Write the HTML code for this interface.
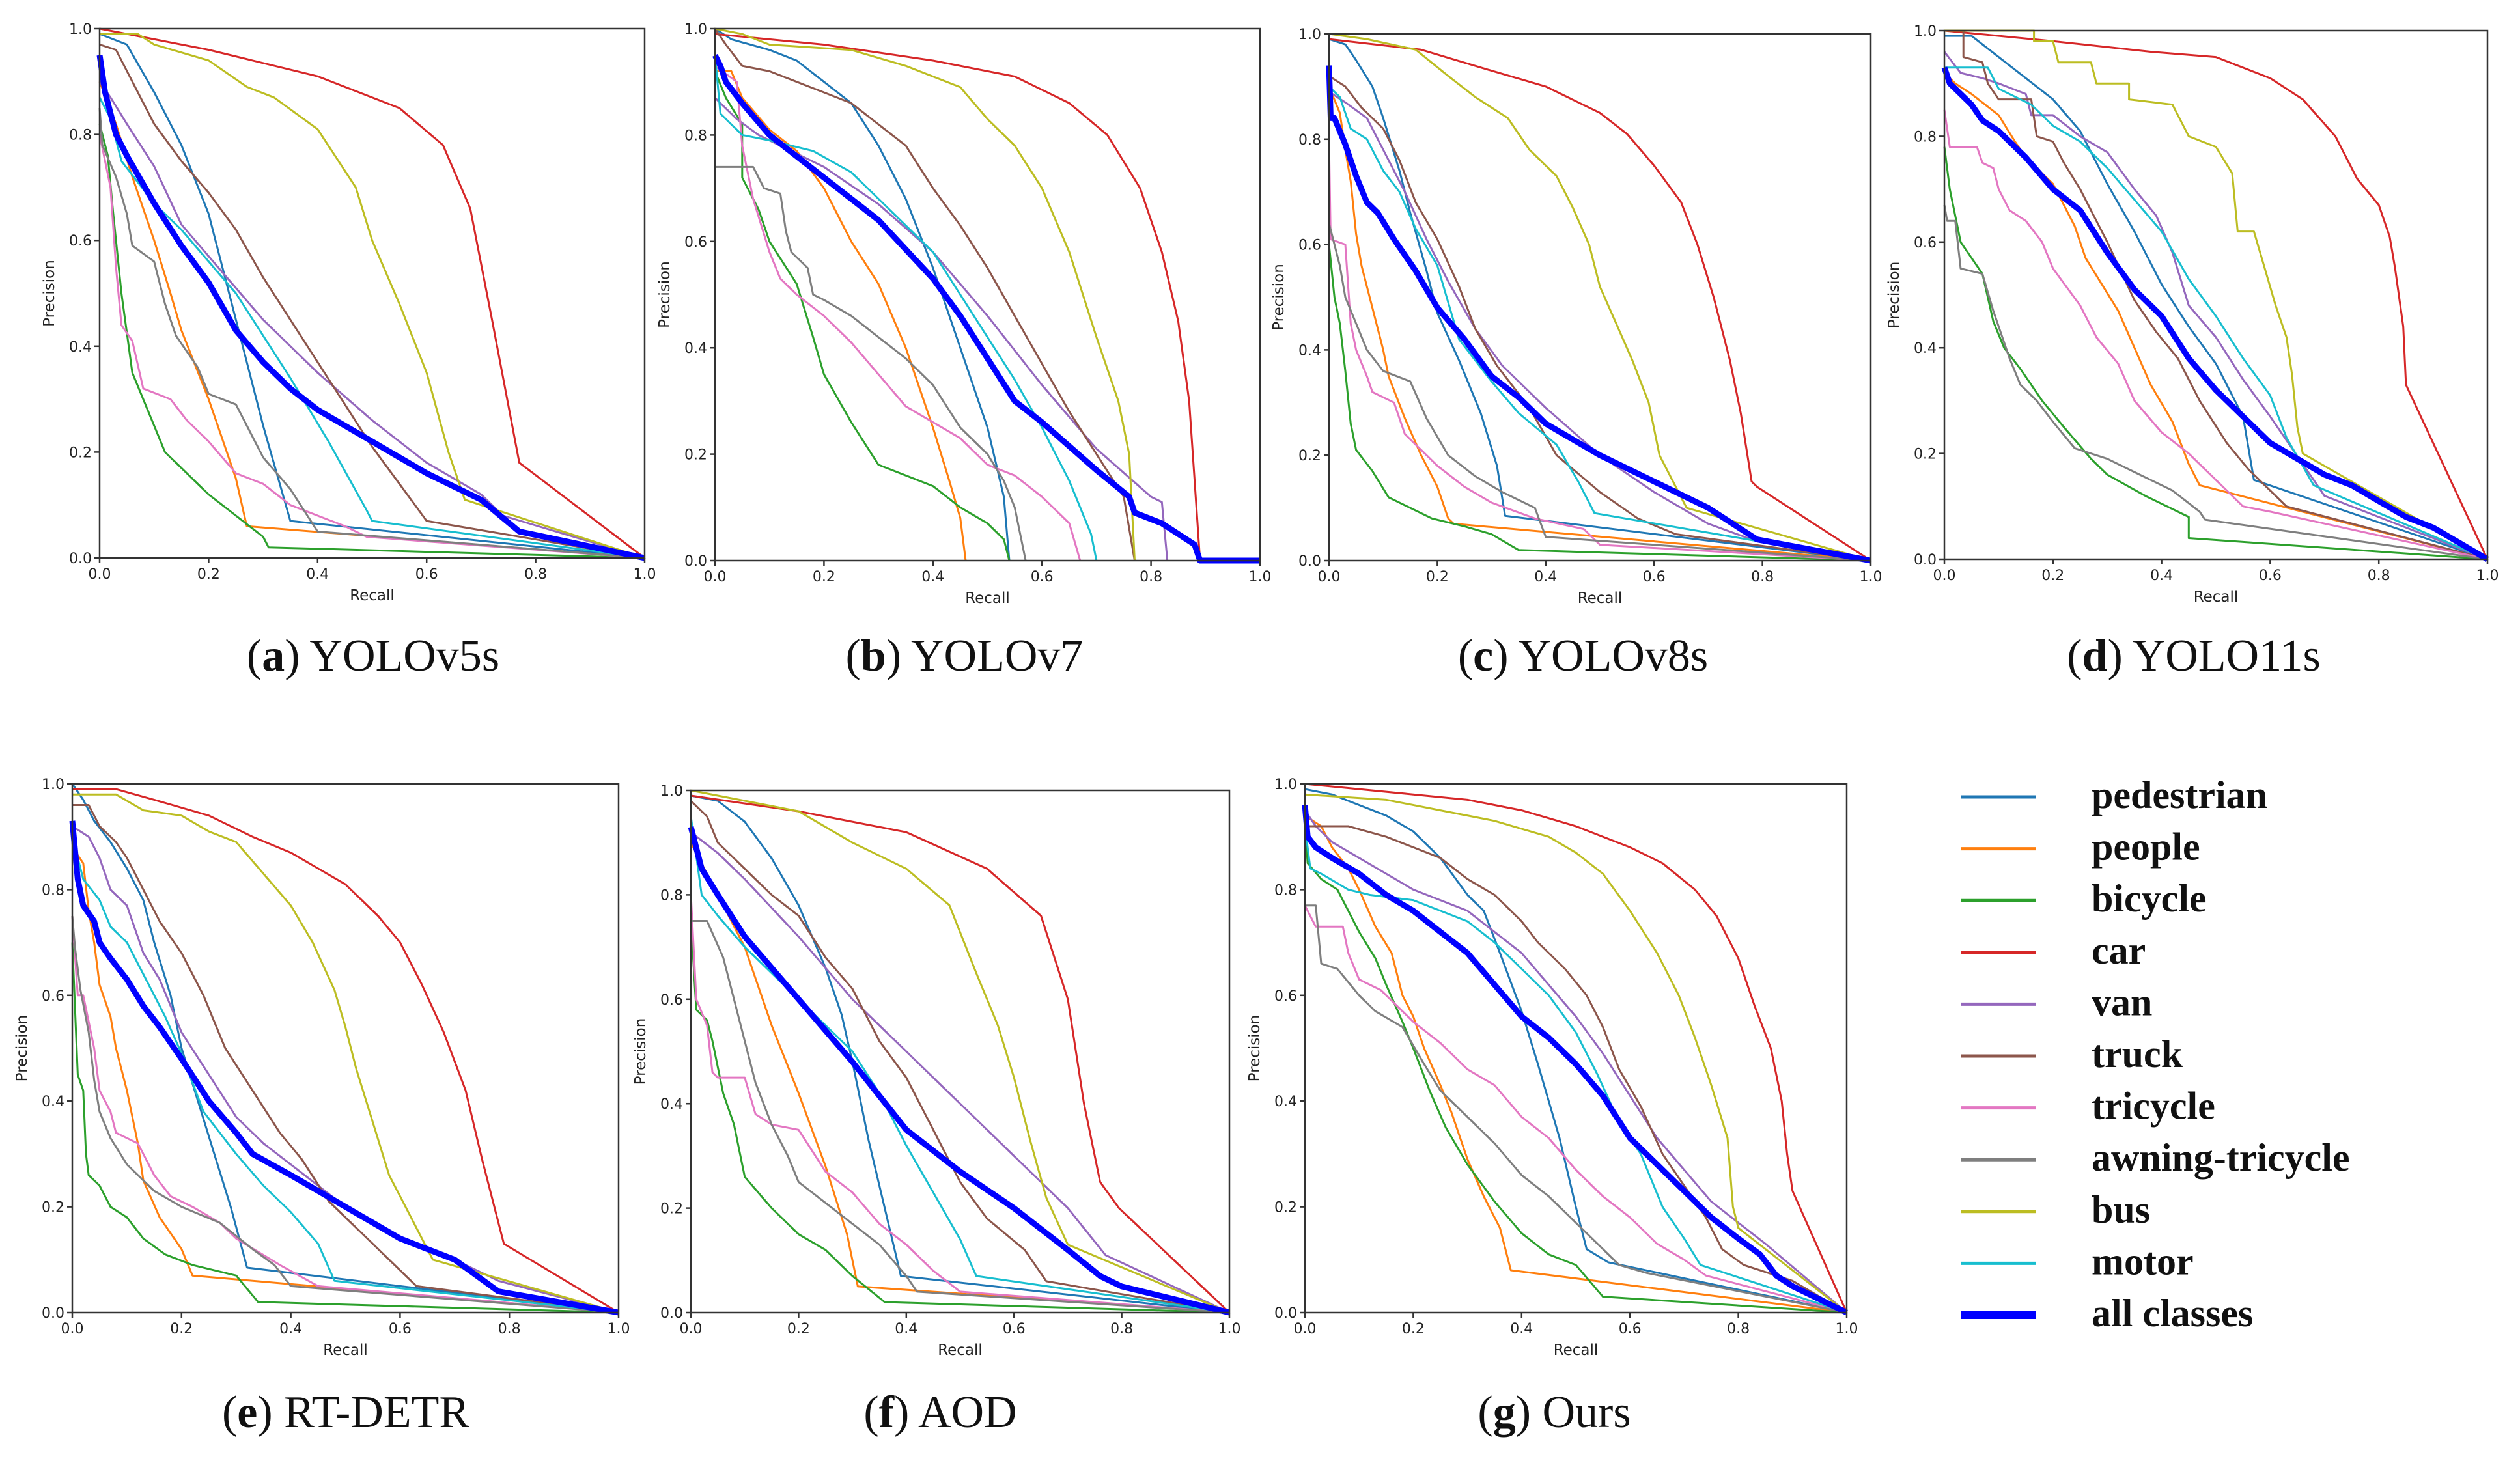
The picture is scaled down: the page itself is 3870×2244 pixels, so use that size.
<!DOCTYPE html>
<html><head><meta charset="utf-8">
<style>
html,body{margin:0;padding:0;background:#fff;}
svg{display:block;}
.tick{font-family:"DejaVu Sans",sans-serif;font-size:22px;fill:#222;}
.axl{font-family:"DejaVu Sans",sans-serif;font-size:23px;fill:#222;}
.cap{font-family:"Liberation Serif",serif;font-size:70px;fill:#111;}
.leg{font-family:"Liberation Serif",serif;font-size:60px;font-weight:bold;fill:#111;}
</style></head>
<body>
<svg id="fig" width="3870" height="2244" viewBox="0 0 3870 2244" xmlns="http://www.w3.org/2000/svg"></svg>
<script>
const classNames = ["pedestrian","people","bicycle","car","van","truck","tricycle","awning-tricycle","bus","motor","all classes"];
const classColors = ["#1f77b4","#ff7f0e","#2ca02c","#d62728","#9467bd","#8c564b","#e377c2","#7f7f7f","#bcbd22","#17becf","#0000ff"];
const tickValues = [0,0.2,0.4,0.6,0.8,1.0];
const tickLabels = ["0.0","0.2","0.4","0.6","0.8","1.0"];
const panelTitles = ["YOLOv5s","YOLOv7","YOLOv8s","YOLO11s","RT-DETR","AOD","Ours"];
const panelLetters = ["a","b","c","d","e","f","g"];

const curvesA = [
[[0,0.99],[0.05,0.97],[0.1,0.88],[0.15,0.78],[0.2,0.65],[0.25,0.45],[0.3,0.25],[0.35,0.07],[1,0]],
[[0,0.9],[0.03,0.82],[0.06,0.72],[0.1,0.6],[0.13,0.5],[0.15,0.43],[0.2,0.3],[0.25,0.15],[0.27,0.06],[1,0]],
[[0,0.82],[0.015,0.76],[0.025,0.65],[0.04,0.5],[0.06,0.35],[0.1,0.25],[0.12,0.2],[0.15,0.17],[0.2,0.12],[0.25,0.08],[0.3,0.04],[0.31,0.02],[1,0]],
[[0,1],[0.2,0.96],[0.4,0.91],[0.55,0.85],[0.63,0.78],[0.68,0.66],[0.72,0.45],[0.77,0.18],[1,0]],
[[0,0.9],[0.02,0.87],[0.05,0.82],[0.1,0.74],[0.15,0.63],[0.2,0.57],[0.3,0.45],[0.4,0.35],[0.5,0.26],[0.6,0.18],[0.7,0.12],[0.74,0.08],[1,0]],
[[0,0.97],[0.03,0.96],[0.06,0.9],[0.1,0.82],[0.15,0.75],[0.2,0.69],[0.25,0.62],[0.3,0.53],[0.35,0.45],[0.4,0.37],[0.45,0.29],[0.5,0.21],[0.55,0.14],[0.6,0.07],[1,0]],
[[0,0.8],[0.02,0.7],[0.03,0.55],[0.04,0.44],[0.06,0.41],[0.08,0.32],[0.13,0.3],[0.16,0.26],[0.2,0.22],[0.25,0.16],[0.3,0.14],[0.35,0.1],[0.45,0.06],[0.49,0.04],[1,0]],
[[0,0.85],[0.005,0.78],[0.03,0.72],[0.05,0.65],[0.06,0.59],[0.1,0.56],[0.12,0.48],[0.14,0.42],[0.18,0.36],[0.2,0.31],[0.25,0.29],[0.3,0.19],[0.35,0.13],[0.4,0.05],[1,0]],
[[0,0.99],[0.07,0.99],[0.1,0.97],[0.2,0.94],[0.27,0.89],[0.32,0.87],[0.4,0.81],[0.47,0.7],[0.5,0.6],[0.55,0.48],[0.6,0.35],[0.64,0.2],[0.67,0.11],[1,0]],
[[0,0.87],[0.02,0.83],[0.04,0.75],[0.1,0.67],[0.15,0.62],[0.25,0.5],[0.35,0.34],[0.42,0.22],[0.49,0.09],[0.5,0.07],[1,0]],
[[0,0.95],[0.01,0.88],[0.03,0.8],[0.05,0.76],[0.1,0.67],[0.15,0.59],[0.2,0.52],[0.25,0.43],[0.3,0.37],[0.35,0.32],[0.4,0.28],[0.5,0.22],[0.6,0.16],[0.7,0.11],[0.77,0.05],[1,0]]
];
const curvesB = [
[[0,1],[0.03,0.98],[0.1,0.96],[0.15,0.94],[0.2,0.9],[0.25,0.86],[0.3,0.78],[0.35,0.68],[0.4,0.55],[0.45,0.4],[0.5,0.25],[0.53,0.12],[0.54,0]],
[[0,0.92],[0.03,0.92],[0.05,0.87],[0.1,0.81],[0.15,0.77],[0.2,0.7],[0.25,0.6],[0.3,0.52],[0.35,0.4],[0.4,0.25],[0.43,0.15],[0.45,0.08],[0.46,0]],
[[0,0.92],[0.02,0.87],[0.05,0.82],[0.05,0.72],[0.08,0.66],[0.1,0.6],[0.15,0.52],[0.18,0.42],[0.2,0.35],[0.25,0.26],[0.3,0.18],[0.4,0.14],[0.45,0.1],[0.5,0.07],[0.53,0.04],[0.54,0]],
[[0,0.99],[0.2,0.97],[0.4,0.94],[0.55,0.91],[0.65,0.86],[0.72,0.8],[0.78,0.7],[0.82,0.58],[0.85,0.45],[0.87,0.3],[0.88,0.15],[0.89,0]],
[[0,0.87],[0.02,0.85],[0.04,0.83],[0.08,0.8],[0.1,0.79],[0.2,0.74],[0.3,0.67],[0.4,0.58],[0.5,0.46],[0.6,0.33],[0.7,0.21],[0.8,0.12],[0.82,0.11],[0.83,0]],
[[0,1],[0.02,0.97],[0.05,0.93],[0.1,0.92],[0.15,0.9],[0.2,0.88],[0.25,0.86],[0.3,0.82],[0.35,0.78],[0.4,0.7],[0.45,0.63],[0.5,0.55],[0.55,0.46],[0.6,0.37],[0.65,0.28],[0.7,0.2],[0.75,0.12],[0.77,0]],
[[0,0.93],[0.04,0.9],[0.05,0.78],[0.07,0.68],[0.1,0.58],[0.12,0.53],[0.15,0.5],[0.2,0.46],[0.25,0.41],[0.3,0.35],[0.35,0.29],[0.4,0.26],[0.45,0.23],[0.5,0.18],[0.55,0.16],[0.6,0.12],[0.65,0.07],[0.67,0]],
[[0,0.74],[0.07,0.74],[0.09,0.7],[0.12,0.69],[0.13,0.62],[0.14,0.58],[0.17,0.55],[0.18,0.5],[0.2,0.49],[0.25,0.46],[0.3,0.42],[0.35,0.38],[0.4,0.33],[0.45,0.25],[0.5,0.2],[0.53,0.15],[0.55,0.1],[0.57,0]],
[[0,1],[0.05,0.99],[0.1,0.97],[0.25,0.96],[0.35,0.93],[0.45,0.89],[0.5,0.83],[0.55,0.78],[0.6,0.7],[0.65,0.58],[0.7,0.42],[0.74,0.3],[0.76,0.2],[0.77,0]],
[[0,0.95],[0.01,0.84],[0.03,0.82],[0.05,0.8],[0.1,0.79],[0.18,0.77],[0.25,0.73],[0.3,0.68],[0.35,0.63],[0.4,0.58],[0.45,0.5],[0.5,0.42],[0.55,0.34],[0.6,0.25],[0.65,0.15],[0.69,0.05],[0.7,0]],
[[0,0.95],[0.01,0.93],[0.02,0.9],[0.05,0.86],[0.1,0.8],[0.15,0.76],[0.2,0.72],[0.3,0.64],[0.4,0.53],[0.45,0.46],[0.5,0.38],[0.55,0.3],[0.6,0.26],[0.7,0.17],[0.76,0.12],[0.77,0.09],[0.82,0.07],[0.85,0.05],[0.88,0.03],[0.89,0],[1,0]]
];
const curvesC = [
[[0,0.99],[0.03,0.98],[0.05,0.95],[0.08,0.9],[0.1,0.84],[0.13,0.74],[0.15,0.66],[0.18,0.55],[0.2,0.47],[0.24,0.38],[0.28,0.28],[0.31,0.18],[0.325,0.085],[1,0]],
[[0,0.9],[0.02,0.85],[0.03,0.78],[0.04,0.72],[0.05,0.62],[0.06,0.56],[0.08,0.48],[0.1,0.4],[0.11,0.35],[0.14,0.27],[0.17,0.2],[0.2,0.14],[0.22,0.08],[0.23,0.07],[1,0]],
[[0,0.6],[0.01,0.5],[0.02,0.45],[0.03,0.36],[0.04,0.26],[0.05,0.21],[0.08,0.17],[0.11,0.12],[0.15,0.1],[0.19,0.08],[0.25,0.065],[0.3,0.05],[0.35,0.02],[1,0]],
[[0,0.99],[0.17,0.97],[0.3,0.93],[0.4,0.9],[0.5,0.85],[0.55,0.81],[0.6,0.75],[0.65,0.68],[0.68,0.6],[0.71,0.5],[0.74,0.38],[0.76,0.28],[0.78,0.15],[0.79,0.14],[1,0]],
[[0,0.89],[0.03,0.87],[0.07,0.84],[0.1,0.78],[0.14,0.7],[0.18,0.61],[0.22,0.53],[0.27,0.44],[0.32,0.37],[0.4,0.29],[0.5,0.2],[0.6,0.13],[0.7,0.07],[0.78,0.04],[1,0]],
[[0,0.92],[0.03,0.9],[0.06,0.86],[0.1,0.82],[0.13,0.76],[0.16,0.68],[0.2,0.61],[0.24,0.52],[0.27,0.44],[0.31,0.37],[0.37,0.29],[0.42,0.2],[0.5,0.13],[0.57,0.08],[0.64,0.05],[1,0]],
[[0,0.8],[0.003,0.61],[0.03,0.6],[0.04,0.45],[0.05,0.4],[0.07,0.35],[0.08,0.32],[0.12,0.3],[0.14,0.24],[0.18,0.2],[0.2,0.18],[0.25,0.14],[0.3,0.11],[0.38,0.08],[0.47,0.06],[0.5,0.03],[1,0]],
[[0,0.64],[0.005,0.62],[0.02,0.56],[0.03,0.5],[0.05,0.45],[0.07,0.4],[0.1,0.36],[0.15,0.34],[0.18,0.27],[0.22,0.2],[0.27,0.16],[0.32,0.13],[0.38,0.1],[0.4,0.045],[1,0]],
[[0,1],[0.07,0.99],[0.16,0.97],[0.22,0.92],[0.27,0.88],[0.33,0.84],[0.37,0.78],[0.42,0.73],[0.45,0.67],[0.48,0.6],[0.5,0.52],[0.53,0.45],[0.56,0.38],[0.59,0.3],[0.61,0.2],[0.66,0.1],[1,0]],
[[0,0.9],[0.02,0.88],[0.04,0.82],[0.07,0.8],[0.1,0.74],[0.13,0.7],[0.16,0.63],[0.2,0.56],[0.24,0.42],[0.3,0.34],[0.35,0.28],[0.42,0.22],[0.46,0.15],[0.49,0.09],[1,0]],
[[0,0.94],[0.003,0.84],[0.01,0.84],[0.03,0.79],[0.05,0.73],[0.07,0.68],[0.09,0.66],[0.12,0.61],[0.16,0.55],[0.2,0.48],[0.25,0.42],[0.3,0.35],[0.35,0.31],[0.4,0.26],[0.5,0.2],[0.6,0.15],[0.7,0.1],[0.79,0.04],[1,0]]
];
const curvesD = [
[[0,0.99],[0.05,0.99],[0.1,0.95],[0.2,0.87],[0.25,0.81],[0.3,0.71],[0.35,0.62],[0.4,0.52],[0.45,0.44],[0.5,0.37],[0.55,0.27],[0.57,0.15],[1,0]],
[[0,0.92],[0.02,0.9],[0.05,0.88],[0.1,0.84],[0.13,0.79],[0.15,0.76],[0.2,0.71],[0.24,0.63],[0.26,0.57],[0.29,0.52],[0.32,0.47],[0.35,0.4],[0.38,0.33],[0.42,0.26],[0.45,0.18],[0.47,0.14],[1,0]],
[[0,0.78],[0.01,0.7],[0.03,0.6],[0.05,0.57],[0.07,0.54],[0.09,0.45],[0.11,0.4],[0.14,0.36],[0.18,0.3],[0.22,0.25],[0.27,0.19],[0.3,0.16],[0.37,0.12],[0.45,0.08],[0.45,0.04],[1,0]],
[[0,1],[0.2,0.98],[0.38,0.96],[0.5,0.95],[0.6,0.91],[0.66,0.87],[0.72,0.8],[0.76,0.72],[0.8,0.67],[0.82,0.61],[0.83,0.55],[0.845,0.44],[0.85,0.33],[1,0]],
[[0,0.96],[0.03,0.92],[0.07,0.91],[0.1,0.9],[0.15,0.88],[0.16,0.84],[0.2,0.84],[0.25,0.8],[0.3,0.77],[0.35,0.7],[0.39,0.65],[0.42,0.58],[0.45,0.48],[0.5,0.42],[0.55,0.34],[0.6,0.27],[0.7,0.12],[1,0]],
[[0,1],[0.035,1],[0.035,0.95],[0.07,0.94],[0.08,0.9],[0.1,0.87],[0.16,0.87],[0.17,0.8],[0.2,0.79],[0.22,0.75],[0.25,0.7],[0.28,0.64],[0.3,0.6],[0.35,0.49],[0.39,0.43],[0.43,0.38],[0.47,0.3],[0.52,0.22],[0.56,0.17],[0.63,0.1],[1,0]],
[[0,0.85],[0.01,0.78],[0.06,0.78],[0.07,0.75],[0.09,0.74],[0.1,0.7],[0.12,0.66],[0.15,0.64],[0.18,0.6],[0.2,0.55],[0.25,0.48],[0.28,0.42],[0.32,0.37],[0.35,0.3],[0.4,0.24],[0.45,0.2],[0.5,0.15],[0.55,0.1],[0.6,0.09],[1,0]],
[[0,0.67],[0.005,0.64],[0.02,0.64],[0.03,0.55],[0.07,0.54],[0.09,0.47],[0.12,0.38],[0.14,0.33],[0.17,0.3],[0.2,0.26],[0.24,0.21],[0.3,0.19],[0.36,0.16],[0.42,0.13],[0.47,0.09],[0.48,0.075],[1,0]],
[[0,1],[0.165,1],[0.165,0.98],[0.2,0.98],[0.21,0.94],[0.27,0.94],[0.28,0.9],[0.34,0.9],[0.34,0.87],[0.42,0.86],[0.45,0.8],[0.5,0.78],[0.53,0.73],[0.54,0.62],[0.57,0.62],[0.59,0.55],[0.61,0.48],[0.63,0.42],[0.64,0.35],[0.65,0.25],[0.66,0.2],[1,0]],
[[0,0.93],[0.08,0.93],[0.1,0.89],[0.16,0.86],[0.2,0.82],[0.25,0.79],[0.3,0.74],[0.35,0.68],[0.4,0.62],[0.45,0.53],[0.5,0.46],[0.55,0.38],[0.6,0.31],[0.63,0.23],[0.68,0.14],[1,0]],
[[0,0.93],[0.01,0.9],[0.03,0.88],[0.05,0.86],[0.07,0.83],[0.1,0.81],[0.15,0.76],[0.2,0.7],[0.25,0.66],[0.3,0.58],[0.35,0.51],[0.4,0.46],[0.45,0.38],[0.5,0.32],[0.55,0.27],[0.6,0.22],[0.65,0.19],[0.7,0.16],[0.75,0.14],[0.8,0.11],[0.85,0.08],[0.9,0.06],[1,0]]
];
const curvesE = [
[[0,1],[0.02,0.97],[0.04,0.93],[0.07,0.89],[0.1,0.84],[0.13,0.78],[0.15,0.7],[0.18,0.6],[0.2,0.5],[0.23,0.4],[0.26,0.3],[0.29,0.2],[0.32,0.085],[1,0]],
[[0,0.88],[0.02,0.85],[0.03,0.76],[0.04,0.7],[0.05,0.62],[0.07,0.56],[0.08,0.5],[0.1,0.42],[0.12,0.32],[0.13,0.25],[0.16,0.18],[0.2,0.12],[0.22,0.07],[1,0]],
[[0,0.7],[0.01,0.45],[0.02,0.42],[0.025,0.3],[0.03,0.26],[0.05,0.24],[0.07,0.2],[0.1,0.18],[0.13,0.14],[0.17,0.11],[0.22,0.09],[0.3,0.07],[0.34,0.02],[1,0]],
[[0,0.99],[0.08,0.99],[0.15,0.97],[0.25,0.94],[0.33,0.9],[0.4,0.87],[0.5,0.81],[0.56,0.75],[0.6,0.7],[0.64,0.62],[0.68,0.53],[0.72,0.42],[0.75,0.29],[0.79,0.13],[1,0]],
[[0,0.92],[0.03,0.9],[0.05,0.86],[0.07,0.8],[0.1,0.77],[0.13,0.68],[0.16,0.63],[0.2,0.53],[0.25,0.45],[0.3,0.37],[0.35,0.32],[0.4,0.28],[0.45,0.24],[0.5,0.2],[0.6,0.14],[0.7,0.1],[0.78,0.06],[1,0]],
[[0,0.96],[0.03,0.96],[0.05,0.92],[0.08,0.89],[0.1,0.86],[0.13,0.8],[0.16,0.74],[0.2,0.68],[0.24,0.6],[0.28,0.5],[0.33,0.42],[0.38,0.34],[0.42,0.29],[0.47,0.21],[0.53,0.15],[0.58,0.1],[0.63,0.05],[1,0]],
[[0,0.75],[0.01,0.6],[0.02,0.6],[0.04,0.5],[0.05,0.42],[0.07,0.38],[0.08,0.34],[0.12,0.32],[0.15,0.26],[0.18,0.22],[0.22,0.2],[0.27,0.17],[0.3,0.14],[0.38,0.09],[0.45,0.05],[1,0]],
[[0,0.75],[0.005,0.69],[0.015,0.61],[0.03,0.53],[0.04,0.44],[0.05,0.38],[0.07,0.33],[0.1,0.28],[0.13,0.25],[0.15,0.23],[0.2,0.2],[0.27,0.17],[0.33,0.12],[0.37,0.09],[0.4,0.05],[1,0]],
[[0,0.98],[0.08,0.98],[0.13,0.95],[0.2,0.94],[0.25,0.91],[0.3,0.89],[0.35,0.83],[0.4,0.77],[0.44,0.7],[0.48,0.61],[0.5,0.54],[0.52,0.46],[0.55,0.36],[0.58,0.26],[0.62,0.18],[0.66,0.1],[1,0]],
[[0,0.9],[0.02,0.82],[0.05,0.78],[0.07,0.73],[0.1,0.7],[0.13,0.64],[0.17,0.56],[0.2,0.49],[0.24,0.38],[0.3,0.3],[0.35,0.24],[0.4,0.19],[0.45,0.13],[0.48,0.06],[1,0]],
[[0,0.93],[0.01,0.82],[0.02,0.77],[0.04,0.74],[0.05,0.7],[0.07,0.67],[0.1,0.63],[0.13,0.58],[0.16,0.54],[0.2,0.48],[0.25,0.4],[0.3,0.34],[0.33,0.3],[0.4,0.26],[0.45,0.23],[0.5,0.2],[0.6,0.14],[0.7,0.1],[0.78,0.04],[1,0]]
];
const curvesF = [
[[0,0.99],[0.05,0.98],[0.1,0.94],[0.15,0.87],[0.2,0.78],[0.25,0.66],[0.28,0.57],[0.3,0.48],[0.33,0.33],[0.36,0.2],[0.39,0.07],[1,0]],
[[0,0.9],[0.05,0.8],[0.1,0.7],[0.15,0.55],[0.2,0.42],[0.25,0.28],[0.29,0.15],[0.31,0.05],[1,0]],
[[0,0.75],[0.01,0.58],[0.03,0.56],[0.04,0.52],[0.06,0.42],[0.08,0.36],[0.1,0.26],[0.15,0.2],[0.2,0.15],[0.25,0.12],[0.3,0.07],[0.36,0.02],[1,0]],
[[0,0.99],[0.2,0.96],[0.4,0.92],[0.55,0.85],[0.65,0.76],[0.7,0.6],[0.73,0.4],[0.76,0.25],[0.795,0.2],[1,0]],
[[0,0.92],[0.05,0.88],[0.1,0.83],[0.2,0.72],[0.3,0.6],[0.4,0.5],[0.5,0.4],[0.6,0.3],[0.7,0.2],[0.77,0.11],[1,0]],
[[0,0.98],[0.03,0.95],[0.05,0.9],[0.1,0.85],[0.15,0.8],[0.2,0.76],[0.25,0.68],[0.3,0.62],[0.35,0.52],[0.4,0.45],[0.45,0.35],[0.5,0.25],[0.55,0.18],[0.62,0.12],[0.66,0.06],[1,0]],
[[0,0.8],[0.01,0.6],[0.03,0.55],[0.04,0.46],[0.05,0.45],[0.1,0.45],[0.12,0.38],[0.15,0.36],[0.2,0.35],[0.25,0.27],[0.3,0.23],[0.35,0.17],[0.4,0.13],[0.45,0.08],[0.5,0.04],[1,0]],
[[0,0.75],[0.03,0.75],[0.06,0.68],[0.08,0.6],[0.1,0.52],[0.12,0.44],[0.15,0.36],[0.18,0.3],[0.2,0.25],[0.25,0.21],[0.3,0.17],[0.35,0.13],[0.4,0.07],[0.42,0.04],[1,0]],
[[0,1],[0.1,0.98],[0.2,0.96],[0.3,0.9],[0.4,0.85],[0.48,0.78],[0.53,0.65],[0.57,0.55],[0.6,0.45],[0.63,0.33],[0.66,0.22],[0.7,0.13],[1,0]],
[[0,0.95],[0.02,0.8],[0.05,0.76],[0.1,0.7],[0.2,0.6],[0.3,0.5],[0.35,0.42],[0.4,0.32],[0.45,0.23],[0.5,0.14],[0.53,0.07],[1,0]],
[[0,0.93],[0.02,0.85],[0.05,0.8],[0.1,0.72],[0.2,0.6],[0.3,0.48],[0.4,0.35],[0.5,0.27],[0.6,0.2],[0.7,0.12],[0.76,0.07],[0.8,0.05],[1,0]]
];
const curvesG = [
[[0,0.99],[0.05,0.98],[0.1,0.96],[0.15,0.94],[0.2,0.91],[0.25,0.86],[0.3,0.79],[0.33,0.76],[0.36,0.68],[0.4,0.57],[0.43,0.47],[0.47,0.33],[0.5,0.2],[0.52,0.12],[0.56,0.095],[1,0]],
[[0,0.94],[0.03,0.92],[0.05,0.88],[0.08,0.84],[0.1,0.8],[0.13,0.73],[0.16,0.68],[0.18,0.6],[0.2,0.56],[0.22,0.5],[0.25,0.43],[0.27,0.38],[0.3,0.29],[0.33,0.22],[0.36,0.16],[0.38,0.08],[1,0]],
[[0,0.92],[0.005,0.85],[0.03,0.82],[0.06,0.8],[0.08,0.76],[0.1,0.72],[0.13,0.67],[0.15,0.62],[0.18,0.55],[0.2,0.5],[0.23,0.42],[0.26,0.35],[0.3,0.28],[0.35,0.21],[0.4,0.15],[0.45,0.11],[0.5,0.09],[0.55,0.03],[1,0]],
[[0,1],[0.2,0.98],[0.3,0.97],[0.4,0.95],[0.5,0.92],[0.6,0.88],[0.66,0.85],[0.72,0.8],[0.76,0.75],[0.8,0.67],[0.83,0.58],[0.86,0.5],[0.88,0.4],[0.89,0.3],[0.9,0.23],[1,0]],
[[0,0.95],[0.02,0.92],[0.05,0.89],[0.1,0.86],[0.15,0.83],[0.2,0.8],[0.25,0.78],[0.3,0.76],[0.35,0.72],[0.4,0.68],[0.45,0.62],[0.5,0.56],[0.55,0.49],[0.6,0.41],[0.65,0.33],[0.7,0.27],[0.75,0.21],[0.8,0.17],[0.85,0.13],[1,0]],
[[0,0.92],[0.08,0.92],[0.15,0.9],[0.2,0.88],[0.25,0.86],[0.3,0.82],[0.35,0.79],[0.4,0.74],[0.43,0.7],[0.48,0.65],[0.52,0.6],[0.55,0.54],[0.58,0.46],[0.62,0.39],[0.66,0.3],[0.7,0.24],[0.74,0.18],[0.77,0.12],[0.81,0.09],[0.9,0.06],[1,0]],
[[0,0.77],[0.02,0.73],[0.07,0.73],[0.08,0.68],[0.1,0.63],[0.14,0.61],[0.2,0.55],[0.25,0.51],[0.3,0.46],[0.35,0.43],[0.4,0.37],[0.45,0.33],[0.5,0.27],[0.55,0.22],[0.6,0.18],[0.65,0.13],[0.7,0.1],[0.74,0.07],[1,0]],
[[0,0.77],[0.02,0.77],[0.03,0.66],[0.06,0.65],[0.1,0.6],[0.13,0.57],[0.18,0.54],[0.22,0.47],[0.25,0.42],[0.3,0.37],[0.35,0.32],[0.4,0.26],[0.45,0.22],[0.5,0.17],[0.54,0.13],[0.58,0.09],[0.63,0.075],[1,0]],
[[0,0.98],[0.15,0.97],[0.25,0.95],[0.35,0.93],[0.45,0.9],[0.5,0.87],[0.55,0.83],[0.6,0.76],[0.65,0.68],[0.69,0.6],[0.72,0.52],[0.75,0.43],[0.78,0.33],[0.79,0.2],[0.8,0.16],[1,0]],
[[0,0.92],[0.01,0.84],[0.03,0.83],[0.08,0.8],[0.12,0.79],[0.2,0.78],[0.25,0.76],[0.3,0.74],[0.35,0.7],[0.4,0.65],[0.45,0.6],[0.5,0.53],[0.54,0.45],[0.58,0.36],[0.62,0.3],[0.66,0.2],[0.7,0.14],[0.73,0.09],[1,0]],
[[0,0.96],[0.005,0.9],[0.02,0.88],[0.05,0.86],[0.1,0.83],[0.15,0.79],[0.2,0.76],[0.25,0.72],[0.3,0.68],[0.35,0.62],[0.4,0.56],[0.45,0.52],[0.5,0.47],[0.55,0.41],[0.6,0.33],[0.65,0.28],[0.7,0.23],[0.75,0.18],[0.8,0.14],[0.84,0.11],[0.87,0.07],[0.9,0.05],[1,0]]
];
const allCurves = [curvesA,curvesB,curvesC,curvesD,curvesE,curvesF,curvesG];

const panelBoxes = [
 {x0:153,x1:990,y0:44,y1:857,cx:573,cy:1030},
 {x0:1098,x1:1935,y0:44,y1:861,cx:1481,cy:1030},
 {x0:2041,x1:2873,y0:52,y1:861,cx:2431,cy:1030},
 {x0:2986,x1:3820,y0:47,y1:859,cx:3369,cy:1030},
 {x0:111,x1:950,y0:1204,y1:2016,cx:531,cy:2192},
 {x0:1061,x1:1888,y0:1214,y1:2016,cx:1444,cy:2192},
 {x0:2004,x1:2836,y0:1204,y1:2016,cx:2387,cy:2192}
];
const NS="http://www.w3.org/2000/svg";
const svg=document.getElementById('fig');
function mk(tag,attrs,parent){const e=document.createElementNS(NS,tag);for(const k in attrs)e.setAttribute(k,attrs[k]);(parent||svg).appendChild(e);return e;}

panelBoxes.forEach((b,pi)=>{
  const g=mk('g',{});
  
  
  const sx=v=>b.x0+v*(b.x1-b.x0);
  const sy=v=>b.y1-v*(b.y1-b.y0);
  const cg=mk('g',{},g);
  
  
  allCurves[pi].forEach((pts,ci)=>{
    const d=pts.map((p,i)=>(i?'L':'M')+sx(p[0]).toFixed(1)+','+sy(p[1]).toFixed(1)).join(' ');
    const path=mk('path',{d:d,fill:'none',stroke:classColors[ci],'stroke-width':ci===10?9:3,'stroke-linejoin':'round'},cg);
    
    
  });
  const fr=mk('rect',{x:b.x0,y:b.y0,width:b.x1-b.x0,height:b.y1-b.y0,fill:'none',stroke:'#333','stroke-width':2.5},g);
  
  
  tickValues.forEach((t,i)=>{
    mk('line',{x1:sx(t),x2:sx(t),y1:b.y1,y2:b.y1+8,stroke:'#333','stroke-width':2.5},g);
    const xt=mk('text',{x:sx(t),y:b.y1+32,'text-anchor':'middle',class:'tick'},g);
    xt.textContent=tickLabels[i];
    
    
    mk('line',{x1:b.x0-8,x2:b.x0,y1:sy(t),y2:sy(t),stroke:'#333','stroke-width':2.5},g);
    const yt=mk('text',{x:b.x0-12,y:sy(t)+8,'text-anchor':'end',class:'tick'},g);
    yt.textContent=tickLabels[i];
    
    
  });
  const xl=mk('text',{x:(b.x0+b.x1)/2,y:b.y1+65,'text-anchor':'middle',class:'axl'},g);
  xl.textContent='Recall';
  
  
  const yx=b.x0-70, yy=(b.y0+b.y1)/2;
  const yl=mk('text',{x:yx,y:yy,'text-anchor':'middle',class:'axl',transform:'rotate(-90 '+yx+' '+yy+')'},g);
  yl.textContent='Precision';
  
  
  const cap=mk('text',{x:b.cx,y:b.cy,'text-anchor':'middle',class:'cap'},g);
  
  
  const t1=mk('tspan',{},cap); t1.textContent='(';
  const t2=mk('tspan',{'font-weight':'bold'},cap); t2.textContent=panelLetters[pi];
  const t3=mk('tspan',{},cap); t3.textContent=') '+panelTitles[pi];
});

const lg=mk('g',{});


classNames.forEach((n,i)=>{
  const y=1224+i*79.6;
  const ln=mk('line',{x1:3011,x2:3126,y1:y,y2:y,stroke:classColors[i],'stroke-width':i===10?12:5},lg);
  
  
  const tx=mk('text',{x:3212,y:y+17,class:'leg'},lg);
  tx.textContent=n;
  
  
});
</script>
</body></html>
